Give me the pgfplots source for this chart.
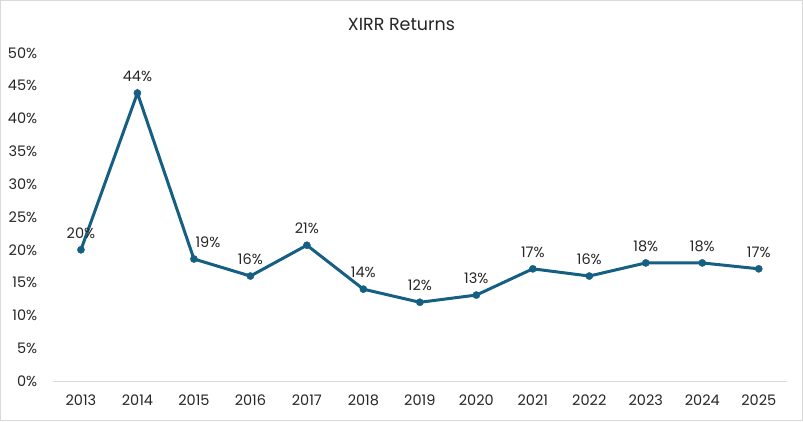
\documentclass[border=0pt]{standalone}
\usepackage{pgfplots}
\pgfplotsset{compat=1.18}
\usepackage{fontspec}
\setmainfont{Poppins}
\definecolor{linec}{HTML}{156082}
\definecolor{txt}{HTML}{262626}
\begin{document}
\begin{tikzpicture}[x=1pt,y=1pt]
\useasboundingbox (-52.7,-40) rectangle (750.3,381);
\draw[line width=1pt, color=black!15] (-52.2,-39.5) rectangle (749.8,380.5);
\begin{axis}[
  at={(0,0)}, anchor=south west,
  scale only axis,
  width=734.3pt, height=328pt,
  xmin=-0.5, xmax=12.5,
  ymin=0, ymax=50,
  xtick={0,...,12},
  xticklabels={2013,2014,2015,2016,2017,2018,2019,2020,2021,2022,2023,2024,2025},
  ytick={0,5,...,50},
  yticklabel={\pgfmathprintnumber{\tick}\%},
  /pgf/number format/assume math mode=true,
  separate axis lines,
  x axis line style={draw=black!15, line width=1pt},
  y axis line style={draw=none},
  axis x line*=bottom,
  axis y line*=left,
  major tick length=0pt,
  tick style={draw=none},
  ticklabel style={font=\fontsize{14.5}{16}\selectfont, text=txt},
  xticklabel style={yshift=-10pt},
  yticklabel style={xshift=-12pt},
  clip=false,
  nodes near coords={\pgfmathprintnumber[fixed,precision=0]{\pgfplotspointmeta}\%},
  nodes near coords style={font=\fontsize{14.5}{16}\selectfont, text=txt, anchor=south, yshift=8pt,
     xshift={ifthenelse(\coordindex==2,14,0)}},
]
\addplot[color=linec, line width=3pt, mark=*, mark size=3.6pt, mark options={solid, fill=linec, draw=linec, line width=0.4pt}]
coordinates {
(0,20.0) (1,43.9) (2,18.6) (3,16.0) (4,20.7) (5,14.0) (6,12.0) (7,13.1) (8,17.1) (9,16.0) (10,18.0) (11,18.0) (12,17.1)
};
\end{axis}
\node[font=\fontsize{17.5}{20}\selectfont, text=txt] at (348.8,357) {XIRR Returns};
\end{tikzpicture}
\end{document}
